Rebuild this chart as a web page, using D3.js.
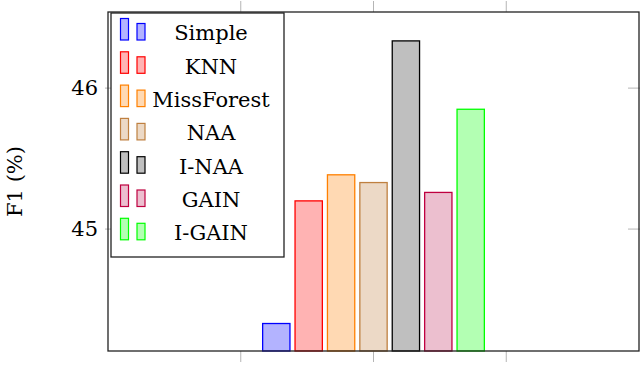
<!DOCTYPE html>
<html>
<head>
<meta charset="utf-8">
<script src="https://cdn.jsdelivr.net/npm/d3@7"></script>
<style>
  body { margin: 0; background: #fff; }
</style>
</head>
<body>
<div id="graph"></div>
<script>
'use strict'

// data
const methods = ['Simple', 'KNN', 'MissForest', 'NAA', 'I-NAA', 'GAIN', 'I-GAIN']
const f1 = [44.33, 45.20, 45.385, 45.33, 46.335, 45.26, 45.85]
const strokes = ['#0000ff', '#ff0000', '#ff8000', '#bf8040', '#000000', '#bf0040', '#00ff00']
const fills = ['#b3b3ff', '#ffb3b3', '#ffd9b3', '#ecd9c6', '#bfbfbf', '#ecbfcf', '#b3ffb3']
const yTicks = [45, 46]
const xTicks = [1, 2, 3]

const serif = "'DejaVu Serif', 'Liberation Serif', serif"

let cw = 640, ch = 365
let margin = { top: 12, right: 1, bottom: 14, left: 108 },
  width = cw - margin.left - margin.right,
  height = ch - margin.top - margin.bottom

let svg = d3.select('#graph').append('svg')
  .attr('width', cw)
  .attr('height', ch)
  .style('font-family', serif)
let g = svg.append('g')
  .attr('transform', `translate(${margin.left}, ${margin.top})`)

let x = d3.scaleLinear().domain([0, 4]).range([0, width])
let y = d3.scaleLinear().domain([44.135, 46.54]).range([height, 0])
let bx = d3.scaleBand()
  .domain(methods)
  .range([x(2) - 113.4, x(2) + 113.4])
  .paddingInner(0.157)
  .paddingOuter(0.0785)

// ticks
let tickColor = '#b5b5b5'
g.selectAll('.xt-top').data(xTicks).enter().append('line')
  .attr('x1', d => x(d)).attr('x2', d => x(d))
  .attr('y1', 0).attr('y2', -11)
  .attr('stroke', tickColor).attr('stroke-width', 1)
g.selectAll('.xt-bot').data(xTicks).enter().append('line')
  .attr('x1', d => x(d)).attr('x2', d => x(d))
  .attr('y1', height).attr('y2', height + 11)
  .attr('stroke', tickColor).attr('stroke-width', 1)
g.selectAll('.yt-left').data(yTicks).enter().append('line')
  .attr('x1', -3).attr('x2', 11)
  .attr('y1', d => y(d)).attr('y2', d => y(d))
  .attr('stroke', tickColor).attr('stroke-width', 1)
g.selectAll('.yt-right').data(yTicks).enter().append('line')
  .attr('x1', width - 11).attr('x2', width + 3)
  .attr('y1', d => y(d)).attr('y2', d => y(d))
  .attr('stroke', tickColor).attr('stroke-width', 1)

g.selectAll('.ylab').data(yTicks).enter().append('text')
  .attr('x', -10)
  .attr('y', d => y(d))
  .attr('dy', '0.35em')
  .attr('text-anchor', 'end')
  .attr('font-family', serif)
  .style('font-size', '21px')
  .text(d => d)

// bars
g.selectAll('.bar').data(methods).enter().append('rect')
  .attr('x', d => bx(d))
  .attr('width', bx.bandwidth())
  .attr('y', (d, i) => y(f1[i]))
  .attr('height', (d, i) => height - y(f1[i]))
  .attr('fill', (d, i) => fills[i])
  .attr('stroke', (d, i) => strokes[i])
  .attr('stroke-width', 1.3)

// frame
g.append('rect')
  .attr('width', width).attr('height', height)
  .attr('fill', 'none')
  .attr('stroke', '#222').attr('stroke-width', 1.3)

// y label
svg.append('text')
  .attr('transform', `translate(22, ${margin.top + height / 2}) rotate(-90)`)
  .attr('text-anchor', 'middle')
  .attr('font-family', serif)
  .style('font-size', '21px')
  .text('F1 (%)')

// legend
let legend = svg.append('g').attr('class', 'legend')
legend.append('rect')
  .attr('x', 111).attr('y', 13)
  .attr('width', 173).attr('height', 244)
  .attr('fill', '#fff')
  .attr('stroke', '#222').attr('stroke-width', 1.3)
let rows = legend.selectAll('.row').data(methods).enter().append('g')
  .attr('transform', (d, i) => `translate(0, ${33 + i * 33.3})`)
rows.append('rect')
  .attr('x', 120.5).attr('y', -14.5)
  .attr('width', 8).attr('height', 21.5)
  .attr('fill', (d, i) => fills[i])
  .attr('stroke', (d, i) => strokes[i]).attr('stroke-width', 1.2)
rows.append('rect')
  .attr('x', 137).attr('y', -9.5)
  .attr('width', 8).attr('height', 16.5)
  .attr('fill', (d, i) => fills[i])
  .attr('stroke', (d, i) => strokes[i]).attr('stroke-width', 1.2)
rows.append('text')
  .attr('x', 211)
  .attr('dy', '0.35em')
  .attr('text-anchor', 'middle')
  .attr('font-family', serif)
  .style('font-size', '21px')
  .text(d => d)
</script>
</body>
</html>
